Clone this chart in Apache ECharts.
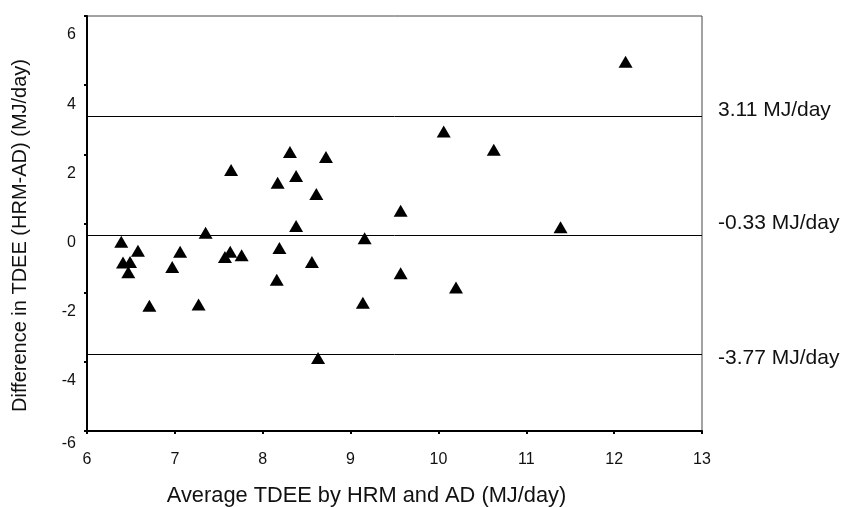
<!DOCTYPE html>
<html>
<head>
<meta charset="utf-8">
<script src="https://cdn.jsdelivr.net/npm/echarts@6/dist/echarts.min.js"></script>
<style>
  html, body { margin: 0; padding: 0; background: #fff; }
  #chart { width: 844px; height: 507px; }
</style>
</head>
<body>
<div id="chart"></div>
<script>
// Average TDEE by HRM and AD (MJ/day)
const avgTDEE = [6.39, 6.41, 6.49, 6.47, 6.58, 6.71, 6.97, 7.06, 7.35, 7.27, 7.57, 7.63, 7.64, 7.76,
  8.17, 8.19, 8.16, 8.31, 8.38, 8.38, 8.61, 8.56, 8.72, 8.63, 9.16, 9.14, 9.57, 9.57,
  10.06, 10.20, 10.63, 11.39, 12.13];
// Difference in TDEE (HRM-AD) (MJ/day)
const diffTDEE = [-0.53, -1.13, -1.11, -1.41, -0.79, -2.38, -1.26, -0.82, -0.27, -2.34, -0.97, -0.82, 1.55, -0.92,
  1.18, -0.71, -1.63, 2.07, 1.37, -0.07, 0.85, -1.11, 1.92, -3.89, -0.43, -2.29, 0.37, -1.44,
  2.66, -1.85, 2.13, -0.11, 4.68];
// Limits of agreement and mean difference
const refValues = [3.11, -0.33, -3.77];
const refLabels = ['3.11 MJ/day', '-0.33 MJ/day', '-3.77 MJ/day'];
const xTicks = [6, 7, 8, 9, 10, 11, 12, 13];
const yTicks = [-6, -4, -2, 0, 2, 4, 6];

const FONT = '"Liberation Sans", Arial, sans-serif';
const points = avgTDEE.map((x, i) => [x, diffTDEE[i]]);
// label placement tweaks: spacer line above (positive) or below (negative), in px
const refShift = [-12, -24, 8];

function refLabelText(i) {
  const s = refShift[i];
  if (s < 0) return '{t|' + refLabels[i] + '}\n{sp' + i + '| }';
  return '{sp' + i + '| }\n{t|' + refLabels[i] + '}';
}
const refRich = { t: { fontFamily: FONT, fontSize: 21, color: '#111', lineHeight: 22 } };
refShift.forEach((s, i) => { refRich['sp' + i] = { fontSize: 1, lineHeight: Math.abs(s) }; });

const chart = echarts.init(document.getElementById('chart'), null, { renderer: 'canvas' });
chart.setOption({
  backgroundColor: '#ffffff',
  animation: false,
  grid: {
    left: 87, right: 142, top: 16, bottom: 76,
    outerBoundsMode: 'none',
    containLabel: false,
    show: true, borderColor: '#444', borderWidth: 1, backgroundColor: 'transparent'
  },
  xAxis: {
    type: 'value',
    min: xTicks[0], max: xTicks[xTicks.length - 1], interval: 1,
    name: 'Average TDEE by HRM and AD (MJ/day)',
    nameLocation: 'middle',
    nameGap: 54,
    nameTextStyle: { fontFamily: FONT, fontSize: 21.8, color: '#111', padding: [0, 56, 0, 0] },
    axisLine: { show: true, onZero: false, lineStyle: { color: '#000', width: 2 } },
    axisTick: { show: true, inside: false, length: 3, lineStyle: { color: '#000', width: 2 } },
    axisLabel: { fontFamily: FONT, fontSize: 16, color: '#111', margin: 21 },
    splitLine: { show: false }
  },
  yAxis: {
    type: 'value',
    min: yTicks[0], max: yTicks[yTicks.length - 1], interval: 2,
    name: 'Difference in TDEE (HRM-AD) (MJ/day)',
    nameLocation: 'middle',
    nameRotate: 90,
    nameGap: 57,
    nameTextStyle: { fontFamily: FONT, fontSize: 20, color: '#111', padding: [0, 24, 0, 0] },
    axisLine: { show: true, onZero: false, lineStyle: { color: '#000', width: 2 } },
    axisTick: { show: true, inside: false, length: 3, lineStyle: { color: '#000', width: 2 } },
    axisLabel: {
      fontFamily: FONT, fontSize: 16, color: '#111', margin: 11,
      formatter: v => (v === -6 ? '{b|' + v + '}' : '{a|' + v + '}'),
      rich: {
        a: { fontFamily: FONT, fontSize: 16, color: '#111', padding: [38, 0, 0, 0] },
        b: { fontFamily: FONT, fontSize: 16, color: '#111', padding: [26, 0, 0, 0] }
      }
    },
    splitLine: { show: false }
  },
  series: [{
    type: 'scatter',
    data: points,
    symbol: 'triangle',
    symbolSize: [14, 12],
    itemStyle: { color: '#000', opacity: 1 },
    markLine: {
      silent: true,
      symbol: ['none', 'none'],
      lineStyle: { color: '#000', width: 1, type: 'solid' },
      label: {
        show: true, position: 'end', distance: 16,
        fontFamily: FONT, fontSize: 21, color: '#111',
        rich: refRich
      },
      data: refValues.map((v, i) => ({
        yAxis: v,
        label: { formatter: refLabelText(i) }
      }))
    }
  }]
});
</script>
</body>
</html>
